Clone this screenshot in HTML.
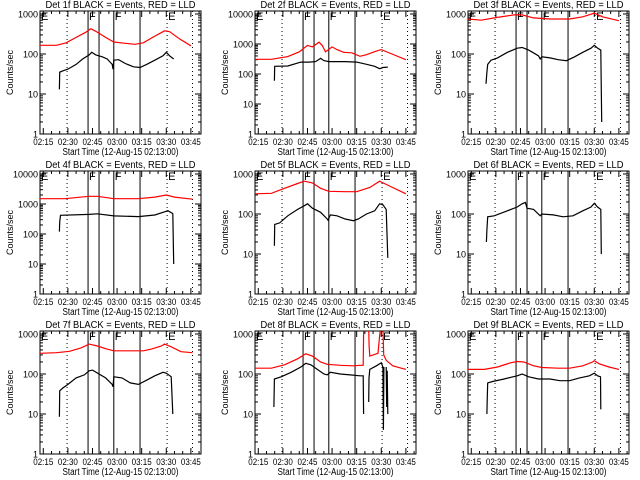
<!DOCTYPE html>
<html><head><meta charset="utf-8"><style>
html,body{margin:0;padding:0;background:#fff;}
svg{display:block;font-family:"Liberation Sans",sans-serif;}
</style></head><body>
<svg id="c" width="640" height="480" viewBox="0 0 640 480"></svg>
<script>
const timeTickLabels = ["02:15","02:30","02:45","03:00","03:15","03:30","03:45"];
const timeTickMinutes = [2,17,32,47,62,77,92];
const solidMarkerMinutes = [29.3,36,45,61];
const dottedMarkerMinutes = [16.5,77.5,93];
const markerLetters = [["E",0],["F",29.3],["F",45],["E",77.5]];
const panelDecades = [3,4,3,4,3,3,3,3,3];
const det1Black=[[11.8,13],[12,35],[14,38],[17,42],[22,55],[26,75],[30,95],[31.5,110],[34,95],[38,85],[41,75],[44,55],[44.5,42],[45,70],[48,72],[52,58],[57,48],[61,46],[65,55],[70,70],[75,90],[77,110],[79,90],[81.5,75]];
const det1Red=[[0,165],[10,165],[16,190],[22,260],[28,350],[31,430],[34,370],[40,260],[45,200],[52,185],[58,175],[63,190],[70,280],[76,380],[79,360],[85,240],[92,160]];
const det2Black=[[11.8,60],[12,180],[20,185],[28,250],[33,250],[37,260],[40,330],[42,280],[45,260],[55,260],[62,250],[68,210],[73,180],[76,150],[78,165],[81,170]];
const det2Red=[[0,310],[10,310],[20,380],[27,550],[32,900],[35,800],[39,1150],[41,900],[43,550],[47,800],[50,650],[54,530],[59,510],[64,390],[68,440],[74,580],[77,650],[82,500],[92,300]];
const det3Black=[[11,18],[11.5,35],[12,55],[14,70],[18,80],[24,110],[30,140],[33,145],[37,125],[43,90],[44,75],[45,85],[50,80],[55,72],[60,68],[65,85],[70,110],[75,140],[77,165],[79,140],[81,125],[81.5,2]];
const det3Red=[[0,750],[8,700],[16,800],[28,950],[33,950],[40,800],[50,750],[62,750],[70,850],[77,1050],[82,850],[92,680]];
const det4Black=[[11.8,120],[12,250],[12.5,420],[30,450],[35,470],[45,400],[60,380],[70,430],[76,550],[78,600],[81,480],[81.5,10]];
const det4Red=[[0,1500],[15,1500],[30,1800],[35,1800],[45,1500],[60,1500],[70,1700],[77,2000],[82,1700],[93,1450]];
const det5Black=[[11.8,16],[12,55],[15,60],[20,90],[26,130],[30,160],[32,180],[35,140],[40,110],[44,75],[44.5,70],[46,95],[50,90],[55,75],[60,68],[63,75],[68,100],[73,120],[76,180],[78,170],[80,130],[80.5,32],[81,8]];
const det5Red=[[0,320],[10,330],[18,440],[26,580],[30,660],[35,600],[40,440],[45,370],[55,360],[62,360],[70,460],[76,660],[82,500],[92,320]];
const det6Black=[[11.2,20],[11.5,40],[12,85],[16,90],[24,120],[30,150],[33,180],[35,195],[36,140],[40,130],[44,90],[45,100],[52,95],[58,85],[64,90],[70,120],[75,150],[77,185],[79,150],[81,130],[81.3,10]];
const det6Red=[];
const det7Black=[[11.8,8.5],[12,38],[14,45],[17,55],[22,80],[27,95],[30,120],[32,125],[36,100],[40,80],[44,55],[44.5,48],[45,85],[50,80],[55,60],[60,55],[65,70],[70,90],[75,110],[77,105],[80,85],[81,10]];
const det7Red=[[0,330],[10,340],[18,370],[25,450],[30,560],[35,500],[40,430],[45,380],[55,380],[63,380],[68,420],[74,500],[76,560],[80,480],[86,360],[93,340]];
const det8Black=[[11.5,15],[11.8,75],[16,85],[22,110],[28,150],[31,185],[34,170],[38,130],[42,100],[44,95],[46,110],[52,100],[58,95],[64,90],[66,90],[66.2,10],null,[69.3,20],[69.5,80],[70,130],[74,160],[77,190],[78,150],[78.3,4],[78.6,150],null,[80,150],[80.3,15],[80.6,120],[81,10]];
const det8Red=[[0,140],[10,140],[18,170],[26,240],[31,320],[35,280],[40,200],[44,175],[52,165],[60,160],[64,165],[66,165],[66.3,1500],null,[69.3,1500],[69.6,500],[70,280],[75,330],[76.5,1500],null,[78,1500],[78.5,300],[80,220],[84,160],[92,130]];
const det9Black=[[11.5,10],[11.7,22],[12,60],[15,65],[22,75],[30,90],[33,100],[37,85],[43,75],[50,75],[56,68],[62,68],[68,80],[74,90],[77,105],[79,90],[80.8,85],[81,13]];
const det9Red=[[0,130],[10,130],[18,150],[26,190],[30,205],[34,200],[40,160],[45,145],[55,140],[62,140],[70,160],[76,200],[77,215],[80,180],[86,150],[92,130]];
const blackSeries=[det1Black,det2Black,det3Black,det4Black,det5Black,det6Black,det7Black,det8Black,det9Black];
const redSeries=[det1Red,det2Red,det3Red,det4Red,det5Red,det6Red,det7Red,det8Red,det9Red];

const svg=document.getElementById('c');
const NS='http://www.w3.org/2000/svg';
function mk(tag,attrs,parent){const e=document.createElementNS(NS,tag);for(const k in attrs)e.setAttribute(k,attrs[k]);parent.appendChild(e);return e;}
const boxLefts=[40,255,468];
const boxTops=[11,171,331];
const BW=161,BH=123,PXMIN=1.64;
for(let i=0;i<9;i++){
  const col=i%3,row=Math.floor(i/3);
  const L=boxLefts[col],T=boxTops[row],B=T+BH,R=L+BW;
  const dec=panelDecades[i];
  const topLog=dec*(1+3/120);
  const g=mk('g',{},svg);
  
  
  const xs=m=>L+m*PXMIN;
  const ys=v=>B-(Math.log10(Math.max(v,1))/topLog)*BH;
  const cp=mk('clipPath',{id:'cp'+i},g);mk('rect',{x:L,y:T,width:BW,height:BH},cp);
  const t=mk('text',{x:(L+R)/2-75,y:T-3,'font-size':'10',textLength:'150',lengthAdjust:'spacingAndGlyphs'},g);
  t.textContent='Det '+(i+1)+'f BLACK = Events, RED = LLD';
  
  
  const fr=mk('rect',{x:L,y:T,width:BW,height:BH,fill:'none',stroke:'#000','stroke-width':1},g);
  
  
  for(let d=0;d<=dec;d++){
    const y=ys(Math.pow(10,d));
    mk('line',{x1:L,x2:L+6,y1:y,y2:y,stroke:'#000'},g);
    mk('line',{x1:R,x2:R-6,y1:y,y2:y,stroke:'#000'},g);
    const tl=mk('text',{x:L-2,y:y+3.5,'font-size':'9','text-anchor':'end'},g);
    tl.textContent=String(Math.pow(10,d));
    
    
    if(d<dec)for(let k=2;k<10;k++){const yy=ys(k*Math.pow(10,d));
      mk('line',{x1:L,x2:L+3,y1:yy,y2:yy,stroke:'#000'},g);mk('line',{x1:R,x2:R-3,y1:yy,y2:yy,stroke:'#000'},g);}
  }
  const yt=mk('text',{x:0,y:0,'font-size':'9','text-anchor':'middle',transform:'translate('+(L-27)+','+((T+B)/2)+') rotate(-90)'},g);
  yt.textContent='Counts/sec';
  
  
  timeTickMinutes.forEach((m,j)=>{const x=xs(m);
    mk('line',{x1:x,x2:x,y1:B,y2:B-6,stroke:'#000'},g);mk('line',{x1:x,x2:x,y1:T,y2:T+6,stroke:'#000'},g);
    const tl=mk('text',{x:x-10,y:B+11,'font-size':'9',textLength:'20',lengthAdjust:'spacingAndGlyphs'},g);
    tl.textContent=timeTickLabels[j];
    
    
    for(let k=1;k<3;k++){const xx=xs(m+k*5);if(xx<R){mk('line',{x1:xx,x2:xx,y1:B,y2:B-3,stroke:'#000'},g);mk('line',{x1:xx,x2:xx,y1:T,y2:T+3,stroke:'#000'},g);}}
  });
  const xt=mk('text',{x:(L+R)/2-58,y:B+21,'font-size':'10',textLength:'116',lengthAdjust:'spacingAndGlyphs'},g);
  xt.textContent='Start Time (12-Aug-15 02:13:00)';
  
  
  solidMarkerMinutes.forEach(m=>{const l=mk('line',{x1:xs(m),x2:xs(m),y1:T,y2:B,stroke:'#000'},g);
    
    });
  dottedMarkerMinutes.forEach(m=>{const l=mk('line',{x1:xs(m),x2:xs(m),y1:T,y2:B,stroke:'#000','stroke-dasharray':'1,3'},g);
    
    });
  markerLetters.forEach(([s,m])=>{const tx=mk('text',{x:xs(m)+1,y:T+9,'font-size':'11'},g);tx.textContent=s;
    
    });
  const line=(data,color,name)=>{if(!data.length)return;
    let d='',pen=false;
    data.forEach(pt=>{if(!pt){pen=false;return;}
      d+=(pen?'L':'M')+xs(pt[0]).toFixed(1)+','+ys(pt[1]).toFixed(1);pen=true;});
    const p=mk('path',{d:d,fill:'none',stroke:color,'stroke-width':1.2,'clip-path':'url(#cp'+i+')'},g);
    
    };
  line(redSeries[i],'#f00','lld-series');
  line(blackSeries[i],'#000','events-series');
}
</script>
</body></html>
